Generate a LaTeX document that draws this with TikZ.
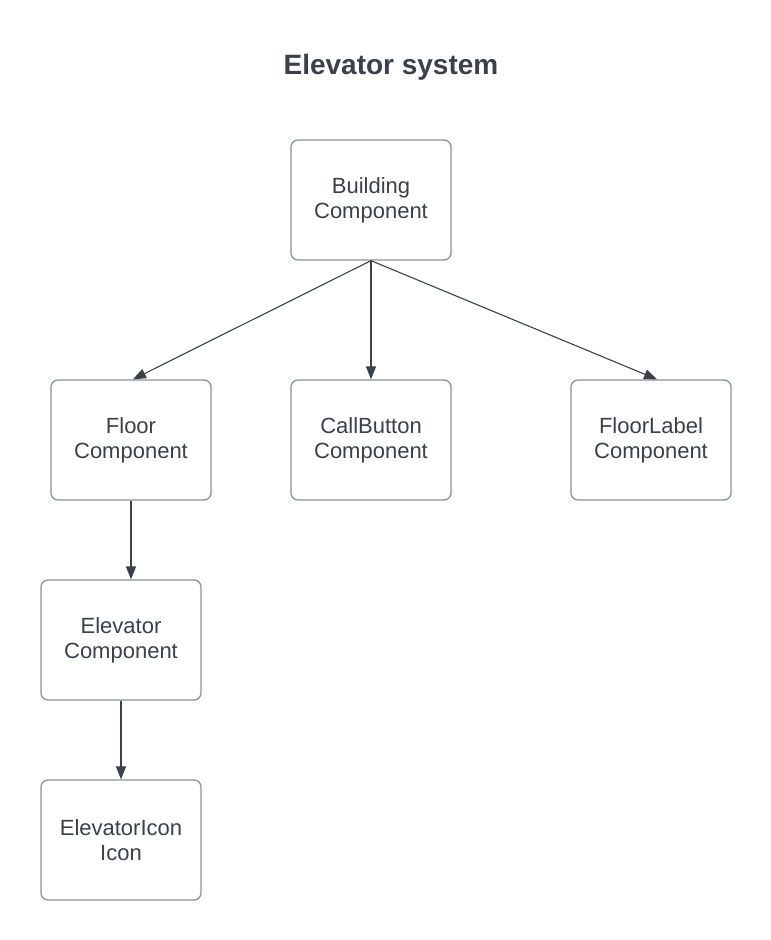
\documentclass[tikz,border=0pt]{standalone}
\usepackage{fontspec}
\setmainfont{Liberation Sans}
\usetikzlibrary{arrows.meta}
\definecolor{txt}{HTML}{3A414A}
\definecolor{bord}{HTML}{8C9199}
\tikzset{
  comp/.style={draw=bord, line width=1.3pt, rounded corners=7pt, minimum width=160pt, minimum height=120pt,
    text=txt, align=center, font=\fontsize{22}{25}\selectfont, inner sep=0pt},
  conn/.style={draw=txt, line width=1.1pt, -{Triangle[length=13pt,width=10pt]}}
}
\begin{document}
\begin{tikzpicture}[x=1pt,y=-1pt]
\useasboundingbox[fill=white] (0,0) rectangle (771,940);
\node[text=txt, font=\fontsize{28}{32}\selectfont\bfseries] (title) at (391,67) {Elevator system};
\node[comp] (bld) at (371,200) {Building\\Component};
\node[comp] (floor) at (131,440) {Floor\\Component};
\node[comp] (call) at (371,440) {CallButton\\Component};
\node[comp] (flabel) at (651,440) {FloorLabel\\Component};
\node[comp] (elev) at (121,640) {Elevator\\Component};
\node[comp] (icon) at (121,840) {ElevatorIcon\\Icon};
\draw[conn] (bld.south) -- ([xshift=2pt]floor.north);
\draw[conn] (bld.south) -- (call.north);
\draw[conn] (bld.south) -- ([xshift=6pt]flabel.north);
\draw[conn] (floor.south) -- (floor.south |- elev.north);
\draw[conn] (elev.south) -- (icon.north);
\end{tikzpicture}
\end{document}
